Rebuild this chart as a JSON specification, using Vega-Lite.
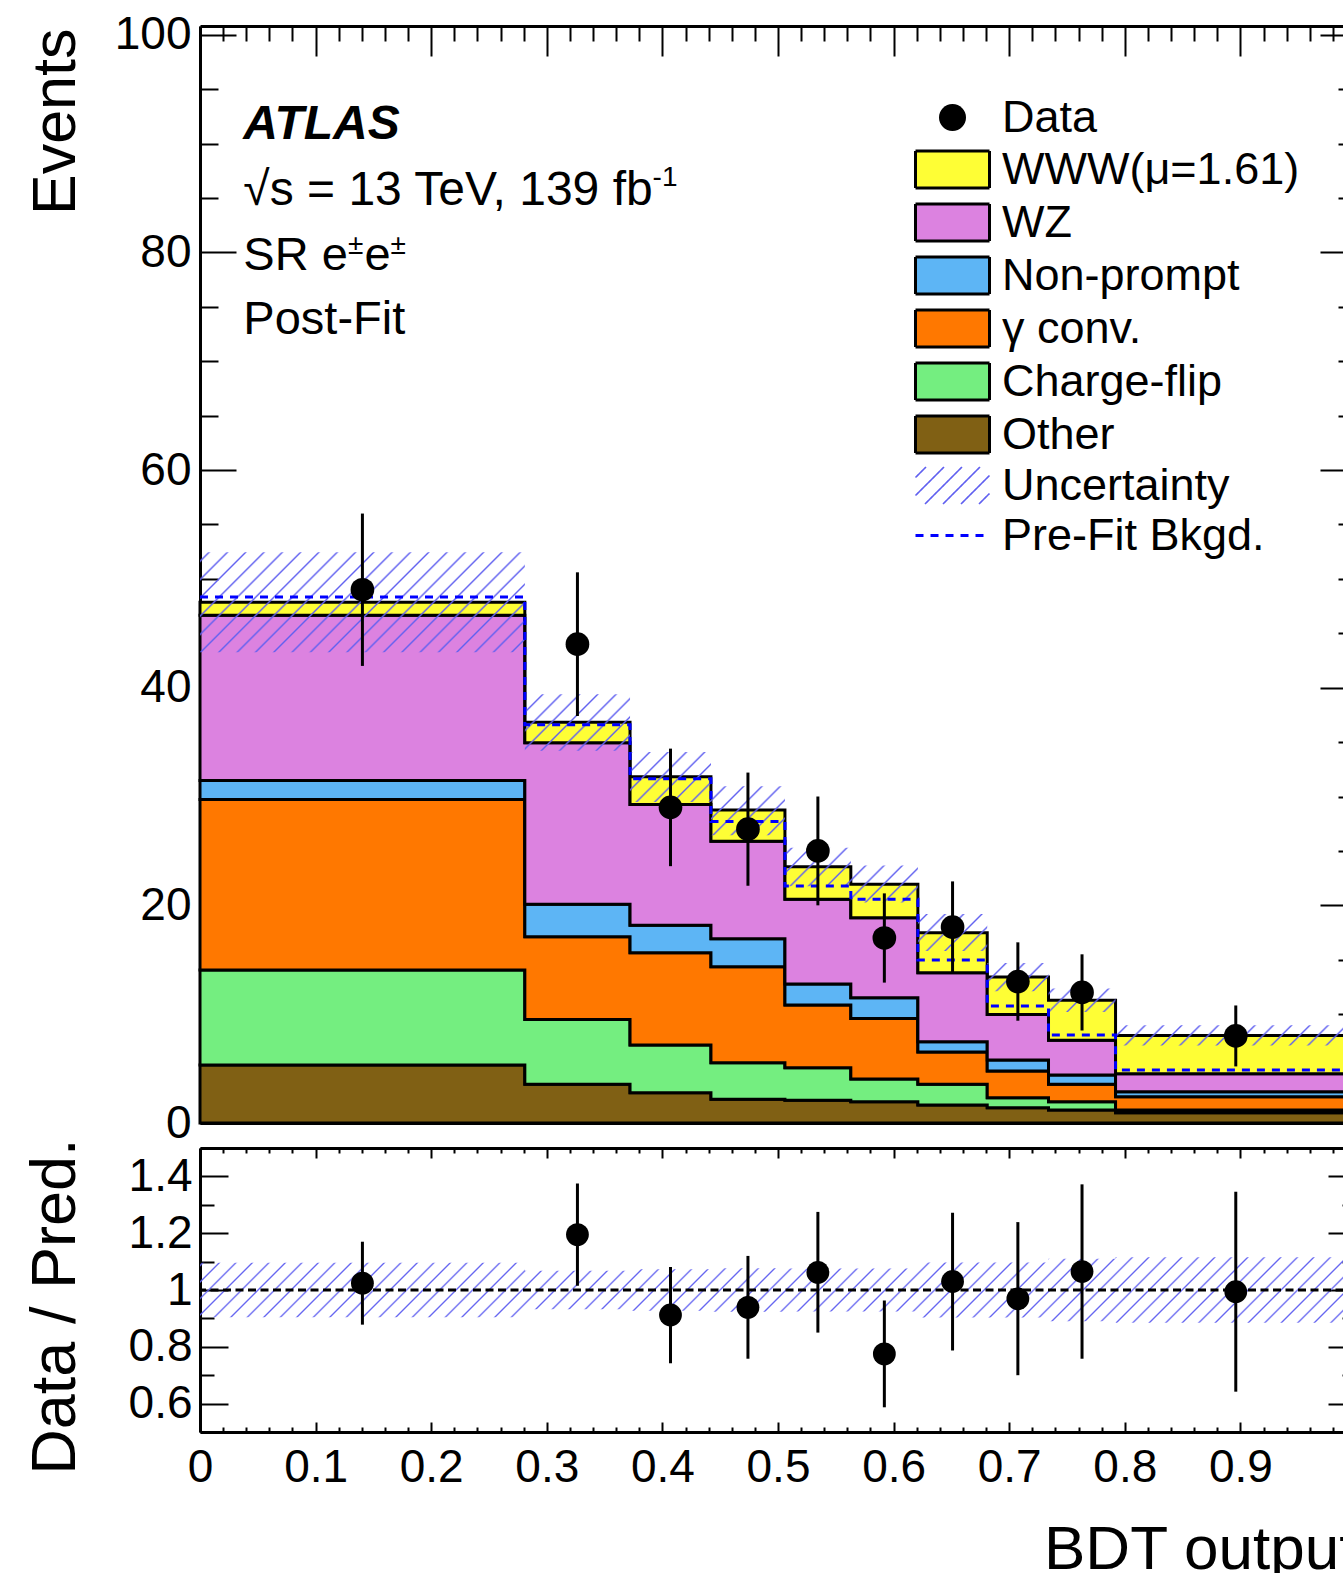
{
"$schema": "https://vega.github.io/schema/vega-lite/v6.json",
"background": "white",
"padding": {"left": 24, "top": 11, "right": 0, "bottom": 0},
"bounds": "flush",
"spacing": 25,
"config": {
  "view": {"stroke": null},
  "font": "Liberation Sans",
  "axis": {"domain": true, "domainColor": "black", "domainWidth": 3, "tickColor": "black", "tickWidth": 2, "labelFont": "Liberation Sans", "labelFontSize": 46, "labelColor": "black", "titleFont": "Liberation Sans", "titleFontSize": 61, "titleFontWeight": "normal", "titleColor": "black", "grid": false, "labelOverlap": false, "labelFlush": false, "labelBound": false, "zindex": 1}
},
"datasets": {
  "bins": [
    {"bin":1,"lo":0,"hi":0.281,"x":0.1405,"n":49,"nlo":42,"nhi":56,"ulo":43.25,"uhi":52.45,"prefit":48.34,"ratio":1.024,"rlo":0.878,"rhi":1.17,"rulo":0.904,"ruhi":1.096},
    {"bin":2,"lo":0.281,"hi":0.372,"x":0.3265,"n":44,"nlo":37.4,"nhi":50.6,"ulo":34.2,"uhi":39.4,"prefit":36.59,"ratio":1.195,"rlo":1.015,"rhi":1.375,"rulo":0.932,"ruhi":1.068},
    {"bin":3,"lo":0.372,"hi":0.442,"x":0.407,"n":29,"nlo":23.6,"nhi":34.4,"ulo":29.5,"uhi":34.1,"prefit":31.63,"ratio":0.912,"rlo":0.742,"rhi":1.081,"rulo":0.927,"ruhi":1.073},
    {"bin":4,"lo":0.442,"hi":0.506,"x":0.474,"n":27,"nlo":21.8,"nhi":32.2,"ulo":26.45,"uhi":30.95,"prefit":27.71,"ratio":0.939,"rlo":0.758,"rhi":1.12,"rulo":0.923,"ruhi":1.077},
    {"bin":5,"lo":0.506,"hi":0.563,"x":0.5345,"n":25,"nlo":20,"nhi":30,"ulo":21.75,"uhi":25.3,"prefit":21.77,"ratio":1.062,"rlo":0.85,"rhi":1.275,"rulo":0.924,"ruhi":1.076},
    {"bin":6,"lo":0.563,"hi":0.621,"x":0.592,"n":17,"nlo":12.9,"nhi":21.1,"ulo":20.25,"uhi":23.65,"prefit":20.55,"ratio":0.775,"rlo":0.587,"rhi":0.963,"rulo":0.924,"ruhi":1.076},
    {"bin":7,"lo":0.621,"hi":0.681,"x":0.651,"n":18,"nlo":13.8,"nhi":22.2,"ulo":15.8,"uhi":19.2,"prefit":14.97,"ratio":1.03,"rlo":0.787,"rhi":1.272,"rulo":0.903,"ruhi":1.097},
    {"bin":8,"lo":0.681,"hi":0.734,"x":0.7075,"n":13,"nlo":9.4,"nhi":16.6,"ulo":12.1,"uhi":14.7,"prefit":10.75,"ratio":0.969,"rlo":0.7,"rhi":1.239,"rulo":0.903,"ruhi":1.097},
    {"bin":9,"lo":0.734,"hi":0.792,"x":0.763,"n":12,"nlo":8.5,"nhi":15.5,"ulo":10.2,"uhi":12.35,"prefit":8.08,"ratio":1.065,"rlo":0.758,"rhi":1.372,"rulo":0.89,"ruhi":1.11},
    {"bin":10,"lo":0.792,"hi":1,"x":0.896,"n":8,"nlo":5.2,"nhi":10.8,"ulo":7.12,"uhi":8.98,"prefit":4.87,"ratio":0.994,"rlo":0.642,"rhi":1.346,"rulo":0.885,"ruhi":1.115}
  ],
  "comps": [
    {"bin":1,"comp":"Other","layer":1,"val":5.33},{"bin":1,"comp":"Charge-flip","layer":2,"val":8.72},{"bin":1,"comp":"γ conv.","layer":3,"val":15.68},{"bin":1,"comp":"Non-prompt","layer":4,"val":1.75},{"bin":1,"comp":"WZ","layer":5,"val":15.18},{"bin":1,"comp":"WWW(μ=1.61)","layer":6,"val":1.19},
    {"bin":2,"comp":"Other","layer":1,"val":3.55},{"bin":2,"comp":"Charge-flip","layer":2,"val":5.97},{"bin":2,"comp":"γ conv.","layer":3,"val":7.59},{"bin":2,"comp":"Non-prompt","layer":4,"val":3.0},{"bin":2,"comp":"WZ","layer":5,"val":14.82},{"bin":2,"comp":"WWW(μ=1.61)","layer":6,"val":1.9},
    {"bin":3,"comp":"Other","layer":1,"val":2.78},{"bin":3,"comp":"Charge-flip","layer":2,"val":4.38},{"bin":3,"comp":"γ conv.","layer":3,"val":8.48},{"bin":3,"comp":"Non-prompt","layer":4,"val":2.52},{"bin":3,"comp":"WZ","layer":5,"val":11.11},{"bin":3,"comp":"WWW(μ=1.61)","layer":6,"val":2.54},
    {"bin":4,"comp":"Other","layer":1,"val":2.18},{"bin":4,"comp":"Charge-flip","layer":2,"val":3.36},{"bin":4,"comp":"γ conv.","layer":3,"val":8.82},{"bin":4,"comp":"Non-prompt","layer":4,"val":2.57},{"bin":4,"comp":"WZ","layer":5,"val":8.97},{"bin":4,"comp":"WWW(μ=1.61)","layer":6,"val":2.85},
    {"bin":5,"comp":"Other","layer":1,"val":2.09},{"bin":5,"comp":"Charge-flip","layer":2,"val":2.99},{"bin":5,"comp":"γ conv.","layer":3,"val":5.76},{"bin":5,"comp":"Non-prompt","layer":4,"val":1.93},{"bin":5,"comp":"WZ","layer":5,"val":7.78},{"bin":5,"comp":"WWW(μ=1.61)","layer":6,"val":2.99},
    {"bin":6,"comp":"Other","layer":1,"val":1.96},{"bin":6,"comp":"Charge-flip","layer":2,"val":2.08},{"bin":6,"comp":"γ conv.","layer":3,"val":5.56},{"bin":6,"comp":"Non-prompt","layer":4,"val":1.91},{"bin":6,"comp":"WZ","layer":5,"val":7.35},{"bin":6,"comp":"WWW(μ=1.61)","layer":6,"val":3.07},
    {"bin":7,"comp":"Other","layer":1,"val":1.65},{"bin":7,"comp":"Charge-flip","layer":2,"val":1.9},{"bin":7,"comp":"γ conv.","layer":3,"val":2.97},{"bin":7,"comp":"Non-prompt","layer":4,"val":0.95},{"bin":7,"comp":"WZ","layer":5,"val":6.34},{"bin":7,"comp":"WWW(μ=1.61)","layer":6,"val":3.67},
    {"bin":8,"comp":"Other","layer":1,"val":1.41},{"bin":8,"comp":"Charge-flip","layer":2,"val":0.91},{"bin":8,"comp":"γ conv.","layer":3,"val":2.46},{"bin":8,"comp":"Non-prompt","layer":4,"val":1.01},{"bin":8,"comp":"WZ","layer":5,"val":4.19},{"bin":8,"comp":"WWW(μ=1.61)","layer":6,"val":3.43},
    {"bin":9,"comp":"Other","layer":1,"val":1.2},{"bin":9,"comp":"Charge-flip","layer":2,"val":0.75},{"bin":9,"comp":"γ conv.","layer":3,"val":1.6},{"bin":9,"comp":"Non-prompt","layer":4,"val":0.86},{"bin":9,"comp":"WZ","layer":5,"val":3.19},{"bin":9,"comp":"WWW(μ=1.61)","layer":6,"val":3.67},
    {"bin":10,"comp":"Other","layer":1,"val":0.95},{"bin":10,"comp":"Charge-flip","layer":2,"val":0.25},{"bin":10,"comp":"γ conv.","layer":3,"val":1.22},{"bin":10,"comp":"Non-prompt","layer":4,"val":0.46},{"bin":10,"comp":"WZ","layer":5,"val":1.65},{"bin":10,"comp":"WWW(μ=1.61)","layer":6,"val":3.52}
  ]
},
"vconcat": [
{
  "width": 1156,
  "height": 1097,
  "resolve": {"axis": {"x": "independent", "y": "independent"}},
  "layer": [
    {
      "data": {"name": "comps"},
      "transform": [
        {"lookup": "bin", "from": {"data": {"name": "bins"}, "key": "bin", "fields": ["lo", "hi"]}},
        {"stack": "val", "groupby": ["bin"], "sort": [{"field": "layer", "order": "ascending"}], "as": ["y0", "y1"]},
        {"fold": ["lo", "hi"], "as": ["edge", "xe"]}
      ],
      "mark": {"type": "area", "stroke": "black", "strokeWidth": 3, "strokeJoin": "miter", "fillOpacity": 1, "opacity": 1},
      "encoding": {
        "x": {"field": "xe", "type": "quantitative", "scale": {"domain": [0, 1], "nice": false, "zero": false},
              "axis": {"orient": "bottom", "labels": false, "title": null, "tickCount": 50, "tickSize": {"expr": "abs(datum.value*10-round(datum.value*10))<0.001 ? -30 : -15"}}},
        "y": {"field": "y1", "type": "quantitative", "stack": null, "scale": {"domain": [0, 100.8], "nice": false},
              "axis": {"orient": "left", "tickCount": 20, "tickSize": {"expr": "datum.value % 20 === 0 ? -36 : -18"}, "labelExpr": "datum.value % 20 === 0 ? datum.label : ''", "labelPadding": 45, "title": "Events", "titleAngle": -90, "titleAlign": "right", "titleBaseline": "alphabetic", "titleX": -126, "titleY": 2}},
        "y2": {"field": "y0"},
        "fill": {"field": "comp", "type": "nominal",
          "scale": {
            "domain": ["Data", "WWW(μ=1.61)", "WZ", "Non-prompt", "γ conv.", "Charge-flip", "Other", "Uncertainty", "Pre-Fit Bkgd."],
            "range": ["black", "#fefe35", "#dc82e0", "#5db5f5", "#ff7800", "#74ee80", "#806014", "transparent", "transparent"]
          },
          "legend": {
            "orient": "none", "legendX": 730, "legendY": 69, "title": null, "padding": 0,
            "labelFont": "Liberation Sans", "labelFontSize": 45, "labelColor": "black", "labelLimit": 0, "labelOffset": 27,
            "rowPadding": 4, "symbolSize": 100, "symbolStrokeWidth": 3, "symbolStrokeColor": "black", "symbolOpacity": 1, "symbolType": "square",
            "encode": {"symbols": {"update": {
              "shape": {"signal": "datum.value === 'Data' ? 'M-2.7,0A2.7,2.7,0,1,1,2.7,0A2.7,2.7,0,1,1,-2.7,0Z' : datum.value === 'Pre-Fit Bkgd.' ? 'M-7.4,0H7.4' : datum.value === 'Uncertainty' ? 'M-7.4,-1.6L-5.3,-3.7M-7.4,2L-1.7,-3.7M-5.5,3.7L1.9,-3.7M-1.9,3.7L5.5,-3.7M1.7,3.7L7.4,-2M5.3,3.7L7.4,1.6' : 'M-7.4,-3.7H7.4V3.7H-7.4Z'"},
              "stroke": {"signal": "datum.value === 'Pre-Fit Bkgd.' ? '#0000ff' : datum.value === 'Uncertainty' ? '#6060f0' : datum.value === 'Data' ? 'transparent' : 'black'"},
              "strokeDash": {"signal": "datum.value === 'Pre-Fit Bkgd.' ? [8,7] : [1,0]"},
              "strokeWidth": {"signal": "datum.value === 'Uncertainty' ? 1.6 : 3"}
            }}}
          }
        },
        "order": [{"field": "bin", "type": "quantitative"}, {"field": "xe", "type": "quantitative"}]
      }
    },
    {
      "data": {"name": "bins"},
      "transform": [{"fold": ["lo", "hi"], "as": ["edge", "xe"]}],
      "mark": {"type": "area", "strokeWidth": 0, "fill": {"gradient": "linear", "x1": 0, "y1": 0, "x2": 1.33917, "y2": 0.57149, "stops": [
{"offset":0.0039,"color":"#6060f000"},{"offset":0.005,"color":"#6060f0"},{"offset":0.0061,"color":"#6060f000"},
{"offset":0.0139,"color":"#6060f000"},{"offset":0.015,"color":"#6060f0"},{"offset":0.0161,"color":"#6060f000"},
{"offset":0.0239,"color":"#6060f000"},{"offset":0.025,"color":"#6060f0"},{"offset":0.0261,"color":"#6060f000"},
{"offset":0.0339,"color":"#6060f000"},{"offset":0.035,"color":"#6060f0"},{"offset":0.0361,"color":"#6060f000"},
{"offset":0.0439,"color":"#6060f000"},{"offset":0.045,"color":"#6060f0"},{"offset":0.0461,"color":"#6060f000"},
{"offset":0.0539,"color":"#6060f000"},{"offset":0.055,"color":"#6060f0"},{"offset":0.0561,"color":"#6060f000"},
{"offset":0.0639,"color":"#6060f000"},{"offset":0.065,"color":"#6060f0"},{"offset":0.0661,"color":"#6060f000"},
{"offset":0.0739,"color":"#6060f000"},{"offset":0.075,"color":"#6060f0"},{"offset":0.0761,"color":"#6060f000"},
{"offset":0.0839,"color":"#6060f000"},{"offset":0.085,"color":"#6060f0"},{"offset":0.0861,"color":"#6060f000"},
{"offset":0.0939,"color":"#6060f000"},{"offset":0.095,"color":"#6060f0"},{"offset":0.0961,"color":"#6060f000"},
{"offset":0.1039,"color":"#6060f000"},{"offset":0.105,"color":"#6060f0"},{"offset":0.1061,"color":"#6060f000"},
{"offset":0.1139,"color":"#6060f000"},{"offset":0.115,"color":"#6060f0"},{"offset":0.1161,"color":"#6060f000"},
{"offset":0.1239,"color":"#6060f000"},{"offset":0.125,"color":"#6060f0"},{"offset":0.1261,"color":"#6060f000"},
{"offset":0.1339,"color":"#6060f000"},{"offset":0.135,"color":"#6060f0"},{"offset":0.1361,"color":"#6060f000"},
{"offset":0.1439,"color":"#6060f000"},{"offset":0.145,"color":"#6060f0"},{"offset":0.1461,"color":"#6060f000"},
{"offset":0.1539,"color":"#6060f000"},{"offset":0.155,"color":"#6060f0"},{"offset":0.1561,"color":"#6060f000"},
{"offset":0.1639,"color":"#6060f000"},{"offset":0.165,"color":"#6060f0"},{"offset":0.1661,"color":"#6060f000"},
{"offset":0.1739,"color":"#6060f000"},{"offset":0.175,"color":"#6060f0"},{"offset":0.1761,"color":"#6060f000"},
{"offset":0.1839,"color":"#6060f000"},{"offset":0.185,"color":"#6060f0"},{"offset":0.1861,"color":"#6060f000"},
{"offset":0.1939,"color":"#6060f000"},{"offset":0.195,"color":"#6060f0"},{"offset":0.1961,"color":"#6060f000"},
{"offset":0.2039,"color":"#6060f000"},{"offset":0.205,"color":"#6060f0"},{"offset":0.2061,"color":"#6060f000"},
{"offset":0.2139,"color":"#6060f000"},{"offset":0.215,"color":"#6060f0"},{"offset":0.2161,"color":"#6060f000"},
{"offset":0.2239,"color":"#6060f000"},{"offset":0.225,"color":"#6060f0"},{"offset":0.2261,"color":"#6060f000"},
{"offset":0.2339,"color":"#6060f000"},{"offset":0.235,"color":"#6060f0"},{"offset":0.2361,"color":"#6060f000"},
{"offset":0.2439,"color":"#6060f000"},{"offset":0.245,"color":"#6060f0"},{"offset":0.2461,"color":"#6060f000"},
{"offset":0.2539,"color":"#6060f000"},{"offset":0.255,"color":"#6060f0"},{"offset":0.2561,"color":"#6060f000"},
{"offset":0.2639,"color":"#6060f000"},{"offset":0.265,"color":"#6060f0"},{"offset":0.2661,"color":"#6060f000"},
{"offset":0.2739,"color":"#6060f000"},{"offset":0.275,"color":"#6060f0"},{"offset":0.2761,"color":"#6060f000"},
{"offset":0.2839,"color":"#6060f000"},{"offset":0.285,"color":"#6060f0"},{"offset":0.2861,"color":"#6060f000"},
{"offset":0.2939,"color":"#6060f000"},{"offset":0.295,"color":"#6060f0"},{"offset":0.2961,"color":"#6060f000"},
{"offset":0.3039,"color":"#6060f000"},{"offset":0.305,"color":"#6060f0"},{"offset":0.3061,"color":"#6060f000"},
{"offset":0.3139,"color":"#6060f000"},{"offset":0.315,"color":"#6060f0"},{"offset":0.3161,"color":"#6060f000"},
{"offset":0.3239,"color":"#6060f000"},{"offset":0.325,"color":"#6060f0"},{"offset":0.3261,"color":"#6060f000"},
{"offset":0.3339,"color":"#6060f000"},{"offset":0.335,"color":"#6060f0"},{"offset":0.3361,"color":"#6060f000"},
{"offset":0.3439,"color":"#6060f000"},{"offset":0.345,"color":"#6060f0"},{"offset":0.3461,"color":"#6060f000"},
{"offset":0.3539,"color":"#6060f000"},{"offset":0.355,"color":"#6060f0"},{"offset":0.3561,"color":"#6060f000"},
{"offset":0.3639,"color":"#6060f000"},{"offset":0.365,"color":"#6060f0"},{"offset":0.3661,"color":"#6060f000"},
{"offset":0.3739,"color":"#6060f000"},{"offset":0.375,"color":"#6060f0"},{"offset":0.3761,"color":"#6060f000"},
{"offset":0.3839,"color":"#6060f000"},{"offset":0.385,"color":"#6060f0"},{"offset":0.3861,"color":"#6060f000"},
{"offset":0.3939,"color":"#6060f000"},{"offset":0.395,"color":"#6060f0"},{"offset":0.3961,"color":"#6060f000"},
{"offset":0.4039,"color":"#6060f000"},{"offset":0.405,"color":"#6060f0"},{"offset":0.4061,"color":"#6060f000"},
{"offset":0.4139,"color":"#6060f000"},{"offset":0.415,"color":"#6060f0"},{"offset":0.4161,"color":"#6060f000"},
{"offset":0.4239,"color":"#6060f000"},{"offset":0.425,"color":"#6060f0"},{"offset":0.4261,"color":"#6060f000"},
{"offset":0.4339,"color":"#6060f000"},{"offset":0.435,"color":"#6060f0"},{"offset":0.4361,"color":"#6060f000"},
{"offset":0.4439,"color":"#6060f000"},{"offset":0.445,"color":"#6060f0"},{"offset":0.4461,"color":"#6060f000"},
{"offset":0.4539,"color":"#6060f000"},{"offset":0.455,"color":"#6060f0"},{"offset":0.4561,"color":"#6060f000"},
{"offset":0.4639,"color":"#6060f000"},{"offset":0.465,"color":"#6060f0"},{"offset":0.4661,"color":"#6060f000"},
{"offset":0.4739,"color":"#6060f000"},{"offset":0.475,"color":"#6060f0"},{"offset":0.4761,"color":"#6060f000"},
{"offset":0.4839,"color":"#6060f000"},{"offset":0.485,"color":"#6060f0"},{"offset":0.4861,"color":"#6060f000"},
{"offset":0.4939,"color":"#6060f000"},{"offset":0.495,"color":"#6060f0"},{"offset":0.4961,"color":"#6060f000"},
{"offset":0.5039,"color":"#6060f000"},{"offset":0.505,"color":"#6060f0"},{"offset":0.5061,"color":"#6060f000"},
{"offset":0.5139,"color":"#6060f000"},{"offset":0.515,"color":"#6060f0"},{"offset":0.5161,"color":"#6060f000"},
{"offset":0.5239,"color":"#6060f000"},{"offset":0.525,"color":"#6060f0"},{"offset":0.5261,"color":"#6060f000"},
{"offset":0.5339,"color":"#6060f000"},{"offset":0.535,"color":"#6060f0"},{"offset":0.5361,"color":"#6060f000"},
{"offset":0.5439,"color":"#6060f000"},{"offset":0.545,"color":"#6060f0"},{"offset":0.5461,"color":"#6060f000"},
{"offset":0.5539,"color":"#6060f000"},{"offset":0.555,"color":"#6060f0"},{"offset":0.5561,"color":"#6060f000"},
{"offset":0.5639,"color":"#6060f000"},{"offset":0.565,"color":"#6060f0"},{"offset":0.5661,"color":"#6060f000"},
{"offset":0.5739,"color":"#6060f000"},{"offset":0.575,"color":"#6060f0"},{"offset":0.5761,"color":"#6060f000"},
{"offset":0.5839,"color":"#6060f000"},{"offset":0.585,"color":"#6060f0"},{"offset":0.5861,"color":"#6060f000"},
{"offset":0.5939,"color":"#6060f000"},{"offset":0.595,"color":"#6060f0"},{"offset":0.5961,"color":"#6060f000"},
{"offset":0.6039,"color":"#6060f000"},{"offset":0.605,"color":"#6060f0"},{"offset":0.6061,"color":"#6060f000"},
{"offset":0.6139,"color":"#6060f000"},{"offset":0.615,"color":"#6060f0"},{"offset":0.6161,"color":"#6060f000"},
{"offset":0.6239,"color":"#6060f000"},{"offset":0.625,"color":"#6060f0"},{"offset":0.6261,"color":"#6060f000"},
{"offset":0.6339,"color":"#6060f000"},{"offset":0.635,"color":"#6060f0"},{"offset":0.6361,"color":"#6060f000"},
{"offset":0.6439,"color":"#6060f000"},{"offset":0.645,"color":"#6060f0"},{"offset":0.6461,"color":"#6060f000"},
{"offset":0.6539,"color":"#6060f000"},{"offset":0.655,"color":"#6060f0"},{"offset":0.6561,"color":"#6060f000"},
{"offset":0.6639,"color":"#6060f000"},{"offset":0.665,"color":"#6060f0"},{"offset":0.6661,"color":"#6060f000"},
{"offset":0.6739,"color":"#6060f000"},{"offset":0.675,"color":"#6060f0"},{"offset":0.6761,"color":"#6060f000"},
{"offset":0.6839,"color":"#6060f000"},{"offset":0.685,"color":"#6060f0"},{"offset":0.6861,"color":"#6060f000"},
{"offset":0.6939,"color":"#6060f000"},{"offset":0.695,"color":"#6060f0"},{"offset":0.6961,"color":"#6060f000"},
{"offset":0.7039,"color":"#6060f000"},{"offset":0.705,"color":"#6060f0"},{"offset":0.7061,"color":"#6060f000"},
{"offset":0.7139,"color":"#6060f000"},{"offset":0.715,"color":"#6060f0"},{"offset":0.7161,"color":"#6060f000"},
{"offset":0.7239,"color":"#6060f000"},{"offset":0.725,"color":"#6060f0"},{"offset":0.7261,"color":"#6060f000"},
{"offset":0.7339,"color":"#6060f000"},{"offset":0.735,"color":"#6060f0"},{"offset":0.7361,"color":"#6060f000"},
{"offset":0.7439,"color":"#6060f000"},{"offset":0.745,"color":"#6060f0"},{"offset":0.7461,"color":"#6060f000"},
{"offset":0.7539,"color":"#6060f000"},{"offset":0.755,"color":"#6060f0"},{"offset":0.7561,"color":"#6060f000"},
{"offset":0.7639,"color":"#6060f000"},{"offset":0.765,"color":"#6060f0"},{"offset":0.7661,"color":"#6060f000"},
{"offset":0.7739,"color":"#6060f000"},{"offset":0.775,"color":"#6060f0"},{"offset":0.7761,"color":"#6060f000"},
{"offset":0.7839,"color":"#6060f000"},{"offset":0.785,"color":"#6060f0"},{"offset":0.7861,"color":"#6060f000"},
{"offset":0.7939,"color":"#6060f000"},{"offset":0.795,"color":"#6060f0"},{"offset":0.7961,"color":"#6060f000"},
{"offset":0.8039,"color":"#6060f000"},{"offset":0.805,"color":"#6060f0"},{"offset":0.8061,"color":"#6060f000"},
{"offset":0.8139,"color":"#6060f000"},{"offset":0.815,"color":"#6060f0"},{"offset":0.8161,"color":"#6060f000"},
{"offset":0.8239,"color":"#6060f000"},{"offset":0.825,"color":"#6060f0"},{"offset":0.8261,"color":"#6060f000"},
{"offset":0.8339,"color":"#6060f000"},{"offset":0.835,"color":"#6060f0"},{"offset":0.8361,"color":"#6060f000"},
{"offset":0.8439,"color":"#6060f000"},{"offset":0.845,"color":"#6060f0"},{"offset":0.8461,"color":"#6060f000"},
{"offset":0.8539,"color":"#6060f000"},{"offset":0.855,"color":"#6060f0"},{"offset":0.8561,"color":"#6060f000"},
{"offset":0.8639,"color":"#6060f000"},{"offset":0.865,"color":"#6060f0"},{"offset":0.8661,"color":"#6060f000"},
{"offset":0.8739,"color":"#6060f000"},{"offset":0.875,"color":"#6060f0"},{"offset":0.8761,"color":"#6060f000"},
{"offset":0.8839,"color":"#6060f000"},{"offset":0.885,"color":"#6060f0"},{"offset":0.8861,"color":"#6060f000"},
{"offset":0.8939,"color":"#6060f000"},{"offset":0.895,"color":"#6060f0"},{"offset":0.8961,"color":"#6060f000"}
      ]}},
      "encoding": {
        "x": {"field": "xe", "type": "quantitative", "scale": {"domain": [0, 1], "nice": false, "zero": false},
              "axis": {"orient": "top", "labels": false, "title": null, "tickCount": 50, "tickSize": {"expr": "abs(datum.value*10-round(datum.value*10))<0.001 ? -30 : -15"}}},
        "y": {"field": "uhi", "type": "quantitative", "scale": {"domain": [0, 100.8], "nice": false},
              "axis": {"orient": "right", "labels": false, "title": null, "tickCount": 20, "tickSize": {"expr": "datum.value % 20 === 0 ? -36 : -18"}}},
        "y2": {"field": "ulo"},
        "order": [{"field": "bin", "type": "quantitative"}, {"field": "xe", "type": "quantitative"}]
      }
    },
    {
      "data": {"name": "bins"},
      "transform": [{"fold": ["lo", "hi"], "as": ["edge", "xe"]}],
      "mark": {"type": "line", "stroke": "#0000ff", "strokeWidth": 3, "strokeDash": [8, 7]},
      "encoding": {
        "x": {"field": "xe", "type": "quantitative", "axis": null},
        "y": {"field": "prefit", "type": "quantitative", "axis": null},
        "order": [{"field": "bin", "type": "quantitative"}, {"field": "xe", "type": "quantitative"}]
      }
    },
    {
      "data": {"name": "bins"},
      "mark": {"type": "rule", "strokeWidth": 3, "color": "black"},
      "encoding": {
        "x": {"field": "x", "type": "quantitative", "axis": null},
        "y": {"field": "nlo", "type": "quantitative", "axis": null},
        "y2": {"field": "nhi"}
      }
    },
    {
      "data": {"name": "bins"},
      "mark": {"type": "point", "filled": true, "shape": "circle", "size": 560, "color": "black", "opacity": 1, "strokeWidth": 0},
      "encoding": {
        "x": {"field": "x", "type": "quantitative", "axis": null},
        "y": {"field": "n", "type": "quantitative", "axis": null}
      }
    },
    {
      "data": {"values": [{}]},
      "mark": {"type": "text", "text": "ATLAS", "font": "Liberation Sans", "fontSize": 48, "fontWeight": "bold", "fontStyle": "italic", "align": "left", "baseline": "alphabetic", "color": "black"},
      "encoding": {"x": {"datum": 0.0375, "type": "quantitative", "axis": null}, "y": {"datum": 90.38, "type": "quantitative", "axis": null}}
    },
    {
      "data": {"values": [{}]},
      "mark": {"type": "text", "text": "√s = 13 TeV, 139 fb", "font": "Liberation Sans", "fontSize": 48, "align": "left", "baseline": "alphabetic", "color": "black"},
      "encoding": {"x": {"datum": 0.0375, "type": "quantitative", "axis": null}, "y": {"datum": 84.39, "type": "quantitative", "axis": null}}
    },
    {
      "data": {"values": [{}]},
      "mark": {"type": "text", "text": "-1", "font": "Liberation Sans", "fontSize": 28, "align": "left", "baseline": "alphabetic", "color": "black"},
      "encoding": {"x": {"datum": 0.3915, "type": "quantitative", "axis": null}, "y": {"datum": 86.13, "type": "quantitative", "axis": null}}
    },
    {
      "data": {"values": [{}]},
      "mark": {"type": "text", "text": "SR e", "font": "Liberation Sans", "fontSize": 47, "align": "left", "baseline": "alphabetic", "color": "black"},
      "encoding": {"x": {"datum": 0.0375, "type": "quantitative", "axis": null}, "y": {"datum": 78.4, "type": "quantitative", "axis": null}}
    },
    {
      "data": {"values": [{}]},
      "mark": {"type": "text", "text": "±", "font": "Liberation Sans", "fontSize": 28, "align": "left", "baseline": "alphabetic", "color": "black"},
      "encoding": {"x": {"datum": 0.128, "type": "quantitative", "axis": null}, "y": {"datum": 79.87, "type": "quantitative", "axis": null}}
    },
    {
      "data": {"values": [{}]},
      "mark": {"type": "text", "text": "e", "font": "Liberation Sans", "fontSize": 47, "align": "left", "baseline": "alphabetic", "color": "black"},
      "encoding": {"x": {"datum": 0.1422, "type": "quantitative", "axis": null}, "y": {"datum": 78.4, "type": "quantitative", "axis": null}}
    },
    {
      "data": {"values": [{}]},
      "mark": {"type": "text", "text": "±", "font": "Liberation Sans", "fontSize": 28, "align": "left", "baseline": "alphabetic", "color": "black"},
      "encoding": {"x": {"datum": 0.1647, "type": "quantitative", "axis": null}, "y": {"datum": 79.87, "type": "quantitative", "axis": null}}
    },
    {
      "data": {"values": [{}]},
      "mark": {"type": "text", "text": "Post-Fit", "font": "Liberation Sans", "fontSize": 47, "align": "left", "baseline": "alphabetic", "color": "black"},
      "encoding": {"x": {"datum": 0.0375, "type": "quantitative", "axis": null}, "y": {"datum": 72.5, "type": "quantitative", "axis": null}}
    }
  ]
},
{
  "width": 1156,
  "height": 284,
  "resolve": {"axis": {"x": "independent", "y": "independent"}},
  "layer": [
    {
      "data": {"name": "bins"},
      "transform": [{"fold": ["lo", "hi"], "as": ["edge", "xe"]}],
      "mark": {"type": "area", "strokeWidth": 0, "fill": {"gradient": "linear", "x1": 0, "y1": 0, "x2": 1.42279, "y2": 0.080395, "stops": [
{"offset":0.0039,"color":"#6060f000"},{"offset":0.005,"color":"#6060f0"},{"offset":0.0061,"color":"#6060f000"},
{"offset":0.0139,"color":"#6060f000"},{"offset":0.015,"color":"#6060f0"},{"offset":0.0161,"color":"#6060f000"},
{"offset":0.0239,"color":"#6060f000"},{"offset":0.025,"color":"#6060f0"},{"offset":0.0261,"color":"#6060f000"},
{"offset":0.0339,"color":"#6060f000"},{"offset":0.035,"color":"#6060f0"},{"offset":0.0361,"color":"#6060f000"},
{"offset":0.0439,"color":"#6060f000"},{"offset":0.045,"color":"#6060f0"},{"offset":0.0461,"color":"#6060f000"},
{"offset":0.0539,"color":"#6060f000"},{"offset":0.055,"color":"#6060f0"},{"offset":0.0561,"color":"#6060f000"},
{"offset":0.0639,"color":"#6060f000"},{"offset":0.065,"color":"#6060f0"},{"offset":0.0661,"color":"#6060f000"},
{"offset":0.0739,"color":"#6060f000"},{"offset":0.075,"color":"#6060f0"},{"offset":0.0761,"color":"#6060f000"},
{"offset":0.0839,"color":"#6060f000"},{"offset":0.085,"color":"#6060f0"},{"offset":0.0861,"color":"#6060f000"},
{"offset":0.0939,"color":"#6060f000"},{"offset":0.095,"color":"#6060f0"},{"offset":0.0961,"color":"#6060f000"},
{"offset":0.1039,"color":"#6060f000"},{"offset":0.105,"color":"#6060f0"},{"offset":0.1061,"color":"#6060f000"},
{"offset":0.1139,"color":"#6060f000"},{"offset":0.115,"color":"#6060f0"},{"offset":0.1161,"color":"#6060f000"},
{"offset":0.1239,"color":"#6060f000"},{"offset":0.125,"color":"#6060f0"},{"offset":0.1261,"color":"#6060f000"},
{"offset":0.1339,"color":"#6060f000"},{"offset":0.135,"color":"#6060f0"},{"offset":0.1361,"color":"#6060f000"},
{"offset":0.1439,"color":"#6060f000"},{"offset":0.145,"color":"#6060f0"},{"offset":0.1461,"color":"#6060f000"},
{"offset":0.1539,"color":"#6060f000"},{"offset":0.155,"color":"#6060f0"},{"offset":0.1561,"color":"#6060f000"},
{"offset":0.1639,"color":"#6060f000"},{"offset":0.165,"color":"#6060f0"},{"offset":0.1661,"color":"#6060f000"},
{"offset":0.1739,"color":"#6060f000"},{"offset":0.175,"color":"#6060f0"},{"offset":0.1761,"color":"#6060f000"},
{"offset":0.1839,"color":"#6060f000"},{"offset":0.185,"color":"#6060f0"},{"offset":0.1861,"color":"#6060f000"},
{"offset":0.1939,"color":"#6060f000"},{"offset":0.195,"color":"#6060f0"},{"offset":0.1961,"color":"#6060f000"},
{"offset":0.2039,"color":"#6060f000"},{"offset":0.205,"color":"#6060f0"},{"offset":0.2061,"color":"#6060f000"},
{"offset":0.2139,"color":"#6060f000"},{"offset":0.215,"color":"#6060f0"},{"offset":0.2161,"color":"#6060f000"},
{"offset":0.2239,"color":"#6060f000"},{"offset":0.225,"color":"#6060f0"},{"offset":0.2261,"color":"#6060f000"},
{"offset":0.2339,"color":"#6060f000"},{"offset":0.235,"color":"#6060f0"},{"offset":0.2361,"color":"#6060f000"},
{"offset":0.2439,"color":"#6060f000"},{"offset":0.245,"color":"#6060f0"},{"offset":0.2461,"color":"#6060f000"},
{"offset":0.2539,"color":"#6060f000"},{"offset":0.255,"color":"#6060f0"},{"offset":0.2561,"color":"#6060f000"},
{"offset":0.2639,"color":"#6060f000"},{"offset":0.265,"color":"#6060f0"},{"offset":0.2661,"color":"#6060f000"},
{"offset":0.2739,"color":"#6060f000"},{"offset":0.275,"color":"#6060f0"},{"offset":0.2761,"color":"#6060f000"},
{"offset":0.2839,"color":"#6060f000"},{"offset":0.285,"color":"#6060f0"},{"offset":0.2861,"color":"#6060f000"},
{"offset":0.2939,"color":"#6060f000"},{"offset":0.295,"color":"#6060f0"},{"offset":0.2961,"color":"#6060f000"},
{"offset":0.3039,"color":"#6060f000"},{"offset":0.305,"color":"#6060f0"},{"offset":0.3061,"color":"#6060f000"},
{"offset":0.3139,"color":"#6060f000"},{"offset":0.315,"color":"#6060f0"},{"offset":0.3161,"color":"#6060f000"},
{"offset":0.3239,"color":"#6060f000"},{"offset":0.325,"color":"#6060f0"},{"offset":0.3261,"color":"#6060f000"},
{"offset":0.3339,"color":"#6060f000"},{"offset":0.335,"color":"#6060f0"},{"offset":0.3361,"color":"#6060f000"},
{"offset":0.3439,"color":"#6060f000"},{"offset":0.345,"color":"#6060f0"},{"offset":0.3461,"color":"#6060f000"},
{"offset":0.3539,"color":"#6060f000"},{"offset":0.355,"color":"#6060f0"},{"offset":0.3561,"color":"#6060f000"},
{"offset":0.3639,"color":"#6060f000"},{"offset":0.365,"color":"#6060f0"},{"offset":0.3661,"color":"#6060f000"},
{"offset":0.3739,"color":"#6060f000"},{"offset":0.375,"color":"#6060f0"},{"offset":0.3761,"color":"#6060f000"},
{"offset":0.3839,"color":"#6060f000"},{"offset":0.385,"color":"#6060f0"},{"offset":0.3861,"color":"#6060f000"},
{"offset":0.3939,"color":"#6060f000"},{"offset":0.395,"color":"#6060f0"},{"offset":0.3961,"color":"#6060f000"},
{"offset":0.4039,"color":"#6060f000"},{"offset":0.405,"color":"#6060f0"},{"offset":0.4061,"color":"#6060f000"},
{"offset":0.4139,"color":"#6060f000"},{"offset":0.415,"color":"#6060f0"},{"offset":0.4161,"color":"#6060f000"},
{"offset":0.4239,"color":"#6060f000"},{"offset":0.425,"color":"#6060f0"},{"offset":0.4261,"color":"#6060f000"},
{"offset":0.4339,"color":"#6060f000"},{"offset":0.435,"color":"#6060f0"},{"offset":0.4361,"color":"#6060f000"},
{"offset":0.4439,"color":"#6060f000"},{"offset":0.445,"color":"#6060f0"},{"offset":0.4461,"color":"#6060f000"},
{"offset":0.4539,"color":"#6060f000"},{"offset":0.455,"color":"#6060f0"},{"offset":0.4561,"color":"#6060f000"},
{"offset":0.4639,"color":"#6060f000"},{"offset":0.465,"color":"#6060f0"},{"offset":0.4661,"color":"#6060f000"},
{"offset":0.4739,"color":"#6060f000"},{"offset":0.475,"color":"#6060f0"},{"offset":0.4761,"color":"#6060f000"},
{"offset":0.4839,"color":"#6060f000"},{"offset":0.485,"color":"#6060f0"},{"offset":0.4861,"color":"#6060f000"},
{"offset":0.4939,"color":"#6060f000"},{"offset":0.495,"color":"#6060f0"},{"offset":0.4961,"color":"#6060f000"},
{"offset":0.5039,"color":"#6060f000"},{"offset":0.505,"color":"#6060f0"},{"offset":0.5061,"color":"#6060f000"},
{"offset":0.5139,"color":"#6060f000"},{"offset":0.515,"color":"#6060f0"},{"offset":0.5161,"color":"#6060f000"},
{"offset":0.5239,"color":"#6060f000"},{"offset":0.525,"color":"#6060f0"},{"offset":0.5261,"color":"#6060f000"},
{"offset":0.5339,"color":"#6060f000"},{"offset":0.535,"color":"#6060f0"},{"offset":0.5361,"color":"#6060f000"},
{"offset":0.5439,"color":"#6060f000"},{"offset":0.545,"color":"#6060f0"},{"offset":0.5461,"color":"#6060f000"},
{"offset":0.5539,"color":"#6060f000"},{"offset":0.555,"color":"#6060f0"},{"offset":0.5561,"color":"#6060f000"},
{"offset":0.5639,"color":"#6060f000"},{"offset":0.565,"color":"#6060f0"},{"offset":0.5661,"color":"#6060f000"},
{"offset":0.5739,"color":"#6060f000"},{"offset":0.575,"color":"#6060f0"},{"offset":0.5761,"color":"#6060f000"},
{"offset":0.5839,"color":"#6060f000"},{"offset":0.585,"color":"#6060f0"},{"offset":0.5861,"color":"#6060f000"},
{"offset":0.5939,"color":"#6060f000"},{"offset":0.595,"color":"#6060f0"},{"offset":0.5961,"color":"#6060f000"},
{"offset":0.6039,"color":"#6060f000"},{"offset":0.605,"color":"#6060f0"},{"offset":0.6061,"color":"#6060f000"},
{"offset":0.6139,"color":"#6060f000"},{"offset":0.615,"color":"#6060f0"},{"offset":0.6161,"color":"#6060f000"},
{"offset":0.6239,"color":"#6060f000"},{"offset":0.625,"color":"#6060f0"},{"offset":0.6261,"color":"#6060f000"},
{"offset":0.6339,"color":"#6060f000"},{"offset":0.635,"color":"#6060f0"},{"offset":0.6361,"color":"#6060f000"},
{"offset":0.6439,"color":"#6060f000"},{"offset":0.645,"color":"#6060f0"},{"offset":0.6461,"color":"#6060f000"},
{"offset":0.6539,"color":"#6060f000"},{"offset":0.655,"color":"#6060f0"},{"offset":0.6561,"color":"#6060f000"},
{"offset":0.6639,"color":"#6060f000"},{"offset":0.665,"color":"#6060f0"},{"offset":0.6661,"color":"#6060f000"},
{"offset":0.6739,"color":"#6060f000"},{"offset":0.675,"color":"#6060f0"},{"offset":0.6761,"color":"#6060f000"},
{"offset":0.6839,"color":"#6060f000"},{"offset":0.685,"color":"#6060f0"},{"offset":0.6861,"color":"#6060f000"},
{"offset":0.6939,"color":"#6060f000"},{"offset":0.695,"color":"#6060f0"},{"offset":0.6961,"color":"#6060f000"},
{"offset":0.7039,"color":"#6060f000"},{"offset":0.705,"color":"#6060f0"},{"offset":0.7061,"color":"#6060f000"},
{"offset":0.7139,"color":"#6060f000"},{"offset":0.715,"color":"#6060f0"},{"offset":0.7161,"color":"#6060f000"},
{"offset":0.7239,"color":"#6060f000"},{"offset":0.725,"color":"#6060f0"},{"offset":0.7261,"color":"#6060f000"},
{"offset":0.7339,"color":"#6060f000"},{"offset":0.735,"color":"#6060f0"},{"offset":0.7361,"color":"#6060f000"}
      ]}},
      "encoding": {
        "x": {"field": "xe", "type": "quantitative", "scale": {"domain": [0, 1], "nice": false, "zero": false},
              "axis": {"orient": "bottom", "tickCount": 50, "tickSize": {"expr": "abs(datum.value*10-round(datum.value*10))<0.001 ? -10 : -5"}, "labelExpr": "datum.value < 0.95 && abs(datum.value*10-round(datum.value*10))<0.001 ? format(datum.value, '~g') : ''", "labelPadding": 23, "title": "BDT output", "titleFontSize": 62, "titleAlign": "right", "titleBaseline": "alphabetic", "titleX": 1156, "titleY": 136}},
        "y": {"field": "ruhi", "type": "quantitative", "scale": {"domain": [0.5, 1.5], "nice": false, "zero": false},
              "axis": {"orient": "left", "tickCount": 10, "tickSize": {"expr": "abs(datum.value*5-round(datum.value*5))<0.001 ? -28 : -14"}, "labelExpr": "abs(datum.value*5-round(datum.value*5))<0.001 ? format(datum.value, '~g') : ''", "labelPadding": 36, "title": "Data / Pred.", "titleFontSize": 63, "titleAngle": -90, "titleAlign": "right", "titleBaseline": "alphabetic", "titleX": -126, "titleY": -10}},
        "y2": {"field": "rulo"},
        "order": [{"field": "bin", "type": "quantitative"}, {"field": "xe", "type": "quantitative"}]
      }
    },
    {
      "data": {"values": [{}]},
      "mark": {"type": "rule", "strokeWidth": 3, "strokeDash": [8, 4.5], "color": "black"},
      "encoding": {"y": {"datum": 1, "type": "quantitative", "axis": null}}
    },
    {
      "data": {"name": "bins"},
      "mark": {"type": "rule", "strokeWidth": 3, "color": "black"},
      "encoding": {
        "x": {"field": "x", "type": "quantitative", "scale": {"domain": [0, 1], "nice": false, "zero": false},
              "axis": {"orient": "top", "labels": false, "title": null, "tickCount": 50, "tickSize": {"expr": "abs(datum.value*10-round(datum.value*10))<0.001 ? -10 : -5"}}},
        "y": {"field": "rlo", "type": "quantitative", "scale": {"domain": [0.5, 1.5], "nice": false, "zero": false},
              "axis": {"orient": "right", "labels": false, "title": null, "tickCount": 10, "tickSize": {"expr": "abs(datum.value*5-round(datum.value*5))<0.001 ? -28 : -14"}}},
        "y2": {"field": "rhi"}
      }
    },
    {
      "data": {"name": "bins"},
      "mark": {"type": "point", "filled": true, "shape": "circle", "size": 520, "color": "black", "opacity": 1, "strokeWidth": 0},
      "encoding": {
        "x": {"field": "x", "type": "quantitative", "axis": null},
        "y": {"field": "ratio", "type": "quantitative", "axis": null}
      }
    }
  ]
}
]
}
